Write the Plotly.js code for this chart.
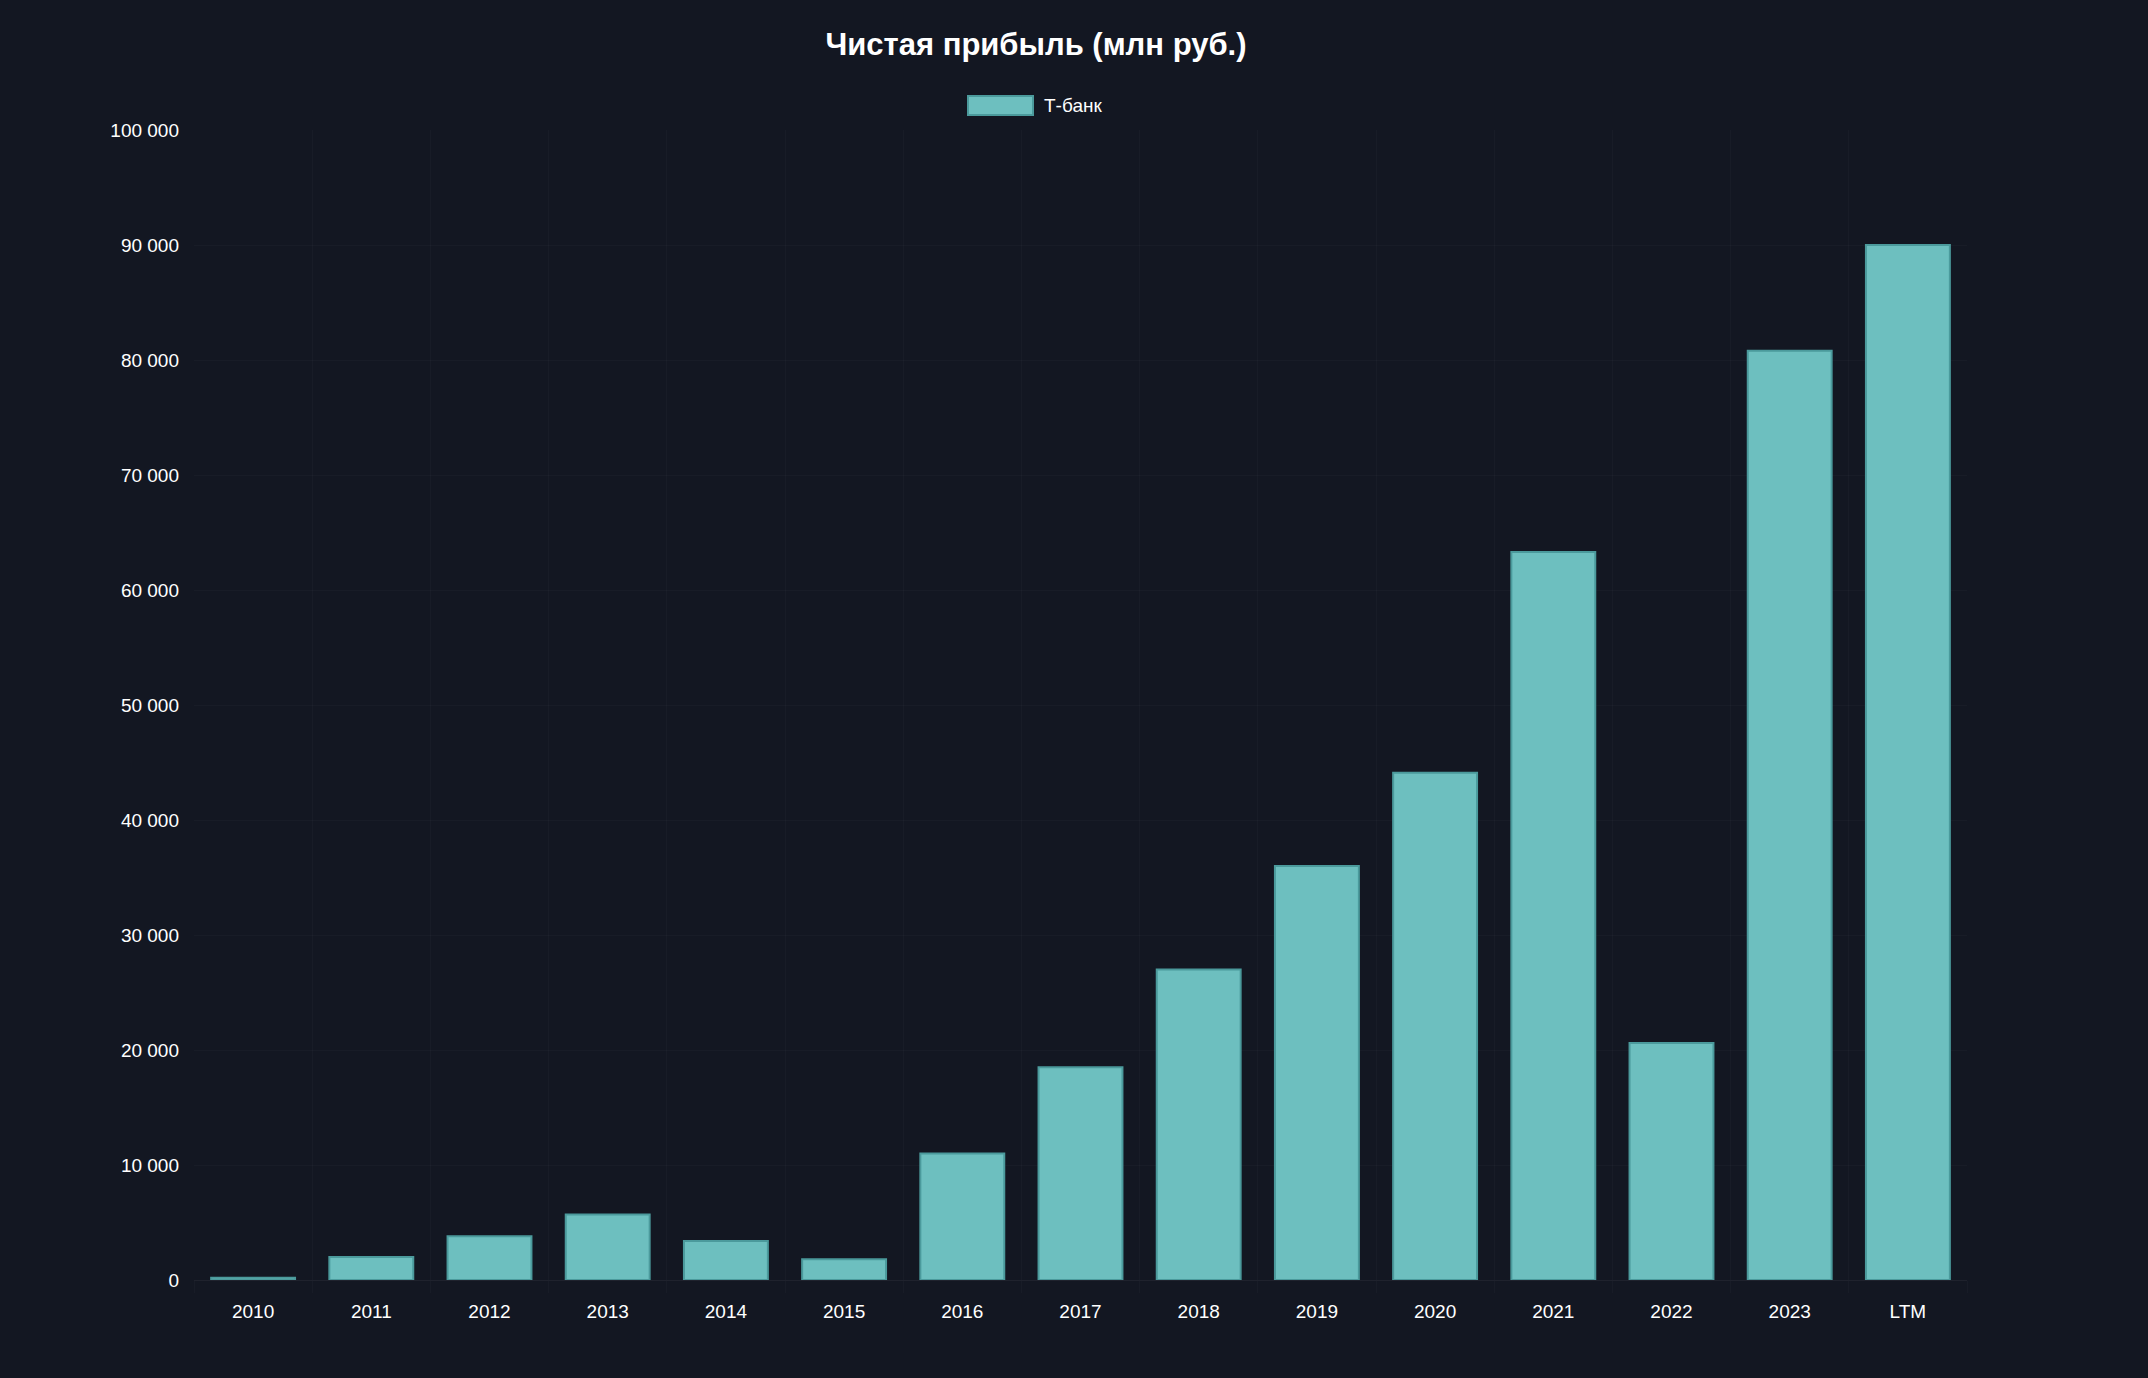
<!DOCTYPE html>
<html>
<head>
<meta charset="utf-8">
<script src="https://cdn.plot.ly/plotly-3.0.1.min.js"></script>
<style>
html,body{margin:0;padding:0;background:#131722;}
#chart{width:2148px;height:1378px;}
</style>
</head>
<body>
<div id="chart"></div>
<script>
const categories = ["2010","2011","2012","2013","2014","2015","2016","2017","2018","2019","2020","2021","2022","2023","LTM"];
const netProfit = [200, 2000, 3800, 5700, 3400, 1800, 11000, 18500, 27000, 36000, 44100, 63300, 20600, 80800, 90000];
const seriesName = "Т-банк";
const chartTitle = "Чистая прибыль (млн руб.)";
const yTicks = [0,10000,20000,30000,40000,50000,60000,70000,80000,90000,100000];

const bg = "#131722";
const fill = "#6dbfbf";
const border = "#4b9a9c";
const grid = "rgba(255,255,255,0.022)";
const font = "Liberation Sans, Arial, Helvetica, sans-serif";

const trace = {
  type: "bar",
  x: categories,
  y: netProfit,
  name: seriesName,
  marker: {color: fill, line: {color: border, width: 2}},
  hoverinfo: "x+y",
  showlegend: false
};

const layout = {
  width: 2148,
  height: 1378,
  paper_bgcolor: bg,
  plot_bgcolor: bg,
  separators: ", ",
  font: {family: font, color: "#ffffff", size: 19},
  margin: {l: 194, r: 181, t: 130, b: 98},
  bargap: 0.29,
  title: {
    text: "<b>" + chartTitle + "</b>",
    font: {family: font, size: 31, color: "#ffffff"},
    x: 0.4823, xref: "container", xanchor: "center",
    y: 1 - 44/1378, yref: "container", yanchor: "middle"
  },
  xaxis: {
    type: "category",
    tickson: "boundaries",
    showgrid: true,
    gridcolor: grid,
    gridwidth: 1,
    ticks: "outside",
    ticklen: 12,
    tickcolor: grid,
    ticklabelstandoff: 18,
    showline: false,
    zeroline: false,
    tickfont: {family: font, size: 19, color: "#ffffff"},
    range: [-0.5, 14.5]
  },
  yaxis: {
    range: [0, 100000],
    tickvals: yTicks,
    tickformat: ",d",
    showgrid: true,
    gridcolor: grid,
    gridwidth: 1,
    zeroline: true,
    zerolinecolor: "rgba(255,255,255,0.05)",
    zerolinewidth: 1,
    showline: false,
    ticks: "",
    ticklabelstandoff: 14,
    tickfont: {family: font, size: 19, color: "#ffffff"}
  },
  shapes: [{
    type: "rect", xref: "paper", yref: "paper",
    x0: (968-194)/1773, x1: (1033-194)/1773,
    y0: 1 + (130-115)/1150, y1: 1 + (130-96)/1150,
    fillcolor: fill, line: {color: border, width: 2}
  }],
  annotations: [{
    text: seriesName, xref: "paper", yref: "paper",
    x: (1042-194)/1773, y: 1 + (130-105.5)/1150,
    xanchor: "left", yanchor: "middle", showarrow: false,
    font: {family: font, size: 19, color: "#ffffff"}
  }]
};

Plotly.newPlot("chart", [trace], layout, {displayModeBar: false, responsive: false});
</script>
</body>
</html>
